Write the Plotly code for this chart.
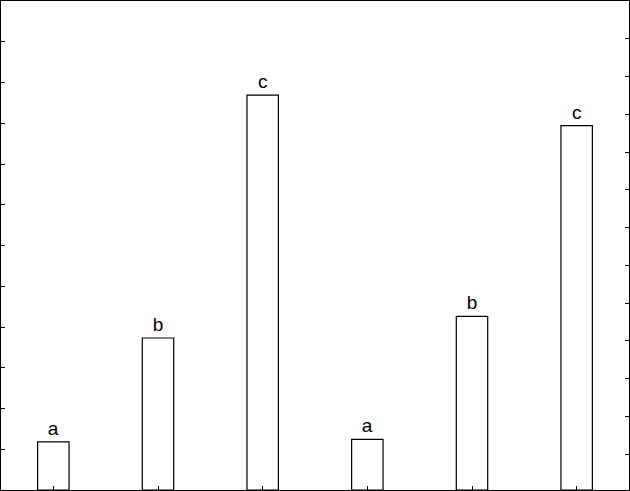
import plotly.graph_objects as go

positions = [1, 2, 3, 4, 5, 6]
values = [1.18, 3.73, 9.69, 1.24, 4.26, 8.94]
letters = ["a", "b", "c", "a", "b", "c"]
left_ticks = list(range(0, 13))
right_ticks = list(range(0, 13))

fig = go.Figure()
fig.add_trace(
    go.Bar(
        x=positions,
        y=values,
        width=0.3,
        text=letters,
        textposition="outside",
        constraintext="none",
        textfont={"family": "Liberation Sans, Arial, sans-serif", "size": 19, "color": "black"},
        marker={"color": "white", "line": {"color": "black", "width": 1.2}},
        cliponaxis=False,
        showlegend=False,
        hoverinfo="skip",
    )
)
# invisible trace to carry the right-hand axis
fig.add_trace(
    go.Scatter(x=[positions[0]], y=[0], yaxis="y2", mode="markers",
               marker={"opacity": 0}, showlegend=False, hoverinfo="skip")
)

axis_style = dict(
    showline=True, linecolor="black", linewidth=1,
    ticks="inside", ticklen=4, tickcolor="black", tickwidth=1,
    showgrid=False, zeroline=False, showticklabels=False,
)

fig.update_layout(
    width=630,
    height=491,
    margin={"l": 1, "r": 1, "t": 1, "b": 1},
    plot_bgcolor="white",
    paper_bgcolor="white",
    xaxis=dict(axis_style, range=[0.5, 6.5], tickvals=positions, mirror=True),
    yaxis=dict(axis_style, range=[0, 12], tickvals=left_ticks),
    yaxis2=dict(axis_style, range=[-0.95, 12.0], tickvals=right_ticks,
                overlaying="y", side="right"),
)
fig.write_html(
    "out.html",
    config={"displayModeBar": False},
    post_script="document.body.style.margin = '0';",
)
